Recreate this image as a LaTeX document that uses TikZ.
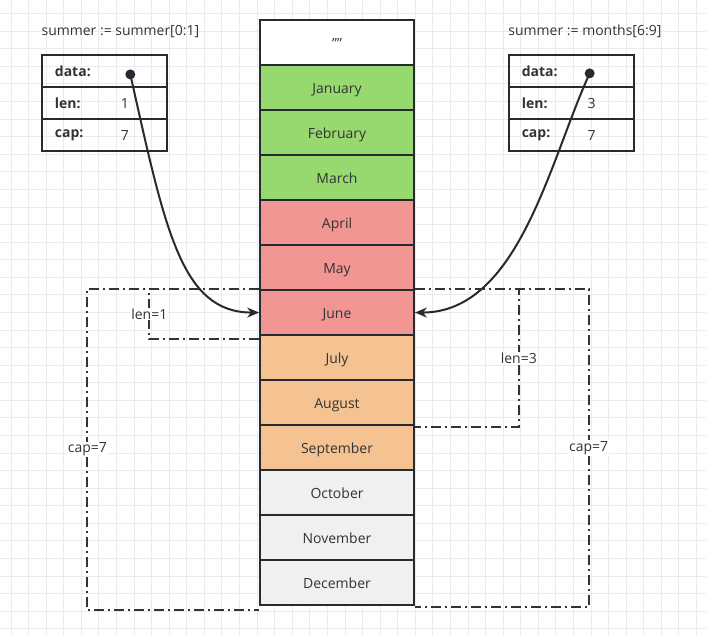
\documentclass[tikz,border=0pt]{standalone}
\usepackage{fontspec}
\setmainfont{Open Sans}
\usetikzlibrary{positioning,arrows.meta}
\definecolor{ink}{HTML}{262B31}
\definecolor{txt}{HTML}{333333}
\definecolor{gridc}{HTML}{EBEBEB}
\definecolor{mgreen}{HTML}{97D86F}
\definecolor{mred}{HTML}{F19693}
\definecolor{morange}{HTML}{F5C391}
\definecolor{mgrey}{HTML}{F0F0F0}
\begin{document}
\begin{tikzpicture}[x=1pt, y=-1pt, font=\fontsize{14}{16}\selectfont, text=txt,
  cell/.style={draw=ink, line width=2pt, minimum width=154pt, minimum height=45pt, inner sep=0pt, text height=12pt, text depth=0pt},
  field/.style={draw=ink, line width=2pt, minimum width=125pt, minimum height=32pt, inner sep=0pt},
  span/.style={draw=txt, line width=2.2pt, dash pattern=on 10pt off 4pt on 2pt off 4pt},
  lbl/.style={fill=white, inner sep=1pt},
  key/.style={anchor=west, font=\bfseries\fontsize{14}{16}\selectfont},
  ptr/.style={draw=ink, line width=2pt, -{Stealth[length=12pt,width=10pt]}}]
  \fill[white] (0,0) rectangle (706,635);
  \foreach \gx in {10.6,28.2,...,706} \draw[gridc, line width=1pt] (\gx,0) -- (\gx,635);
  \foreach \gy in {13.2,30.8,...,635} \draw[gridc, line width=1pt] (0,\gy) -- (706,\gy);
  \foreach \m/\c [count=\i from 0] in {\symbol{34}\symbol{34}/white, January/mgreen, February/mgreen, March/mgreen,
      April/mred, May/mred, June/mred, July/morange, August/morange, September/morange,
      October/mgrey, November/mgrey, December/mgrey}
    \node[cell, fill=\c] (m\i) at (337, 42.5+45*\i) {\m};
  \foreach \s/\cx/\ln/\ttl in {L/104.5/1/{summer := summer[0:1]}, R/572/3/{summer := months[6:9]}} {
    \node[field] (\s0) at (\cx,71) {};
    \node[field] (\s1) at (\cx,103) {};
    \node[field] (\s2) at (\cx,135) {};
    \node[anchor=west, inner sep=0pt] at (\s0.west |- 0,31) {\ttl};
    \node[key] at ([xshift=10pt]\s0.west) {data:};
    \node[key] at ([xshift=10pt]\s1.west) {len:};
    \node[key] at ([xshift=10pt]\s2.west) {cap:};
    \node at ([xshift=20pt]\s1.center) {\ln};
    \node at ([xshift=20pt]\s2.center) {7};
  }
  \node[circle, fill=ink, inner sep=0pt, minimum size=10pt] (dotL) at (130,74) {};
  \node[circle, fill=ink, inner sep=0pt, minimum size=10pt] (dotR) at (590,73) {};
  \draw[ptr] (dotL.center) .. controls +(35,156) and +(-78,0) .. (m6.west);
  \draw[ptr] (dotR.center) .. controls +(-40,87) and +(104,0) .. (m6.east);
  \draw[span] (m6.north west) -- ++(-110,0) |- node[lbl,pos=.25]{len=1} ([yshift=-3pt]m6.south west);
  \draw[span] (m6.north west) -- ++(-172,0) |- node[lbl,pos=.25]{cap=7} ([yshift=-4pt]m12.south west);
  \draw[span] (m6.north east) -- ++(104,0) |- node[lbl,pos=.25]{len=3} ([yshift=-1pt]m8.south east);
  \draw[span] (m6.north east) -- ++(174,0) |- node[lbl,pos=.25]{cap=7} ([yshift=-1pt]m12.south east);
\end{tikzpicture}
\end{document}
